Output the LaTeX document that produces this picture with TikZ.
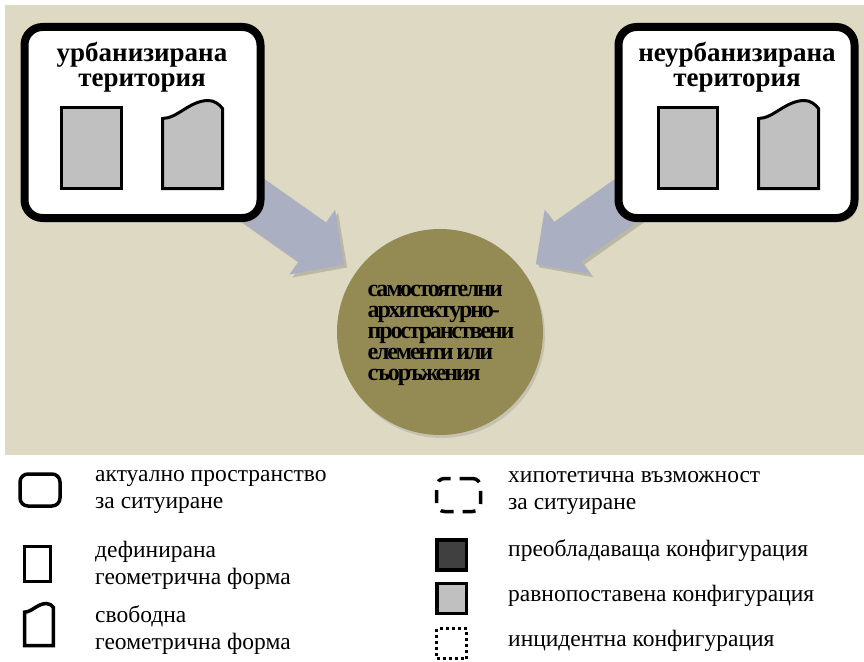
\documentclass[tikz,border=0pt]{standalone}
\usepackage{fontspec}
\setmainfont{Liberation Serif}
\newfontfamily\corefont{Liberation Serif}[LetterSpace=-9, WordSpace=0.7]
\usetikzlibrary{positioning,shadows,arrows.meta,backgrounds}
\definecolor{bgtan}{HTML}{DDD9C3}
\definecolor{coreolive}{HTML}{948A54}
\definecolor{arrowblue}{HTML}{AAB0C2}
\definecolor{formgray}{HTML}{C0C0C0}
\definecolor{prevgray}{HTML}{404040}
\tikzset{
  territory/.style={draw, line width=8pt, rounded corners=18pt, fill=white,
    minimum width=236pt, minimum height=191pt,
    drop shadow={shadow xshift=3pt, shadow yshift=-4pt, opacity=0.35}},
  titletext/.style={inner sep=0pt, anchor=base, align=center, font=\fontsize{27}{25}\selectfont\bfseries},
  formbox/.style={draw, line width=3pt, fill=formgray, inner sep=0pt},
  core/.style={circle, fill=coreolive, minimum size=206pt, inner sep=0pt,
    drop shadow={shadow xshift=2pt, shadow yshift=-3pt, opacity=0.25}},
  coretext/.style={inner sep=0pt, anchor=base, align=left,
    font=\fontsize{24}{21}\selectfont\corefont\bfseries},
  blockarrow/.style={line width=48pt, draw=arrowblue, shorten >=14pt,
    -{Triangle[length=39pt, width=77pt]}},
  arrowshadow/.style={blockarrow, draw=bgtan!85!black, transform canvas={shift={(3pt,-3pt)}}},
  legendtext/.style={inner sep=0pt, anchor=base west, align=left, font=\fontsize{23.5}{27}\selectfont},
  legendicon/.style={draw, line width=3.5pt, inner sep=0pt},
  freeform/.pic={
    \path[pic actions] (0,18) .. controls (15,18) and (27,0) .. (46,0)
      .. controls (52,0) and (57,4) .. (60,8) -- (60,88) -- (0,88) -- cycle;
  }
}
\begin{document}
\begin{tikzpicture}[x=1pt,y=-1pt]
	\useasboundingbox (0,0) rectangle (864,661);

	% territories and core
	\node[territory] (ubox) at (142.5,122.5) {};
	\node[territory] (nbox) at (736.5,122.5) {};
	\node[core] (core) at (440,332) {};
	\node[coretext] (coretitle) at (441,380) {самостоятелни\\архитектурно-\\пространствени\\елементи или\\съоръжения};

	\node[titletext] (utitle) at (142,86) {урбанизирана\\територия};
	\node[titletext] (ntitle) at (737,86) {неурбанизирана\\територия};

	% forms in the territories
	\node[formbox, minimum width=60pt, minimum height=81pt] (urect) at (91.5,148) {};
	\pic[draw, fill=formgray, line width=3pt] (uform) at (162.5,100.5) {freeform};
	\node[formbox, minimum width=59pt, minimum height=81pt] (nrect) at (688,148) {};
	\pic[draw, fill=formgray, line width=3pt] (nform) at (758.5,100.5) {freeform};

	\begin{scope}[on background layer]
		\fill[bgtan] (5,5) rectangle (864,455);
		\draw[arrowshadow] (ubox.center) -- (core);
		\draw[arrowshadow] (nbox.center) -- (core);
		\draw[blockarrow] (ubox.center) -- (core);
		\draw[blockarrow] (nbox.center) -- (core);
	\end{scope}

	% legend
	\node[legendicon, rounded corners=8pt, minimum width=40pt, minimum height=32pt] (actualicon) at (40,490) {};
	\node[legendtext] (actualtext) at (95,508) {актуално пространство\\за ситуиране};
	\node[legendicon, minimum width=26pt, minimum height=35pt] (definedicon) at (37.5,564) {};
	\node[legendtext] (definedtext) at (95,584) {дефинирана\\геометрична форма};
	\pic[draw, line width=3.5pt, scale=0.48] (freeicon) at (24.5,603.5) {freeform};
	\node[legendtext] (freetext) at (95,649) {свободна\\геометрична форма};

	\node[legendicon, rounded corners=8pt, dash pattern=on 13pt off 9pt, minimum width=44pt, minimum height=33pt] (hypoicon) at (458.5,495) {};
	\node[legendtext] (hypotext) at (508,509) {хипотетична възможност\\за ситуиране};
	\node[legendicon, fill=prevgray, minimum width=29.5pt, minimum height=30pt] (previcon) at (451.5,555) {};
	\node[legendtext] (prevtext) at (508,556) {преобладаваща конфигурация};
	\node[legendicon, fill=formgray, minimum width=29.5pt, minimum height=30pt] (equalicon) at (451.5,598.5) {};
	\node[legendtext] (equaltext) at (508,601) {равнопоставена конфигурация};
	\node[legendicon, line width=3pt, dash pattern=on 3pt off 3pt, minimum width=30pt, minimum height=30pt] (incicon) at (451.5,643.5) {};
	\node[legendtext] (inctext) at (508,646) {инцидентна конфигурация};
\end{tikzpicture}
\end{document}
